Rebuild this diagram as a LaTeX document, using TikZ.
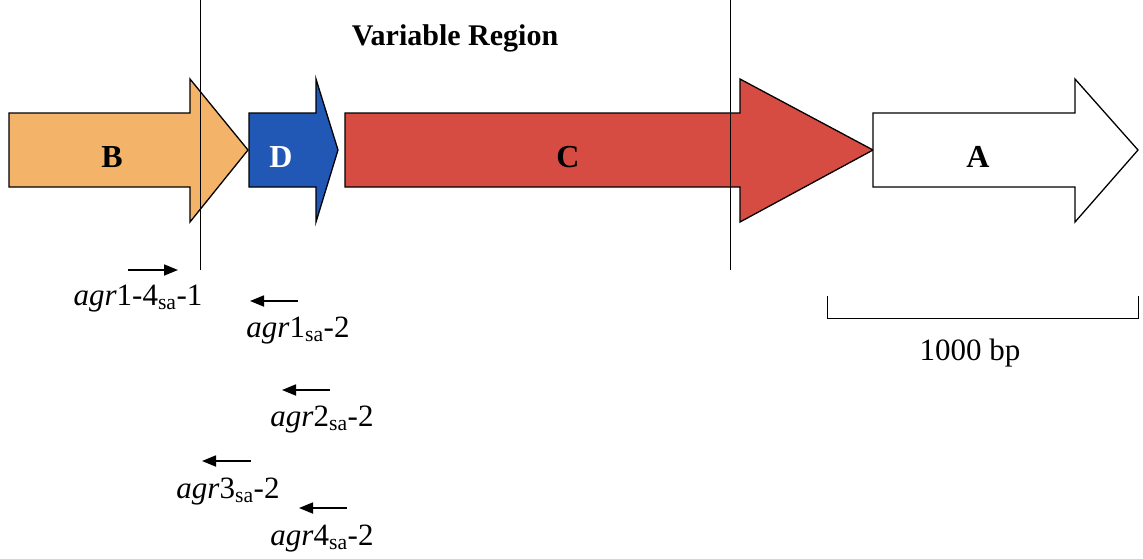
\documentclass[tikz,border=0pt]{standalone}
\usepackage{fontspec}
\setmainfont{Liberation Serif}
\usetikzlibrary{arrows.meta, positioning, calc}
\definecolor{orangeB}{HTML}{F3B469}
\definecolor{blueD}{HTML}{2158B6}
\definecolor{redC}{HTML}{D64C42}
% gene arrow: body start, head base, tip, fill
\newcommand{\genearrow}[4]{%
  \draw[gene, fill=#4] (#1,113) -- (#2,113) -- (#2,79) -- (#3,150) -- (#2,222) -- (#2,187) -- (#1,187) -- cycle;}

\begin{document}
\begin{tikzpicture}[x=1pt, y=-1pt,
    gene/.style={draw=black, line width=1.3pt, line join=miter},
    genelabel/.style={font=\fontsize{32}{36}\selectfont\bfseries},
    primer/.style={-{Triangle[length=14pt,width=11pt]}, line width=1.8pt},
    primerlabel/.style={font=\fontsize{31}{36}\selectfont}]
    \useasboundingbox (0,0) rectangle (1143,558);
    % Genes
    \genearrow{9}{190}{248}{orangeB}
    \genearrow{249}{316}{338}{blueD}
    \genearrow{345}{740}{873}{redC}
    \genearrow{873}{1075}{1138}{white}
    \node[genelabel] (labB) at (112,157) {B};
    \node[genelabel, white] (labD) at (281,157) {D};
    \node[genelabel] (labC) at (568,157) {C};
    \node[genelabel] (labA) at (978,157) {A};
    % Variable region bounds
    \draw[line width=1pt] (200,0) -- (200,270);
    \draw[line width=1pt] (730,0) -- (730,270);
    \node[font=\fontsize{30}{34}\selectfont\bfseries] (varreg) at (455,38) {Variable Region};
    % Primers
    \coordinate (f1s) at (128,270); \coordinate (f1e) at (178,270);
    \draw[primer] (f1s) -- (f1e);
    \node[primerlabel] (f1) at (138,299) {\textit{agr}1-4\textsubscript{sa}-1};
    \coordinate (r1s) at (298,301); \coordinate (r1e) at (250,301);
    \draw[primer] (r1s) -- (r1e);
    \node[primerlabel] (r1) at (298,331) {\textit{agr}1\textsubscript{sa}-2};
    \coordinate (r2s) at (330,390); \coordinate (r2e) at (282,390);
    \draw[primer] (r2s) -- (r2e);
    \node[primerlabel] (r2) at (322,420) {\textit{agr}2\textsubscript{sa}-2};
    \coordinate (r3s) at (251,461); \coordinate (r3e) at (202,461);
    \draw[primer] (r3s) -- (r3e);
    \node[primerlabel] (r3) at (228,492) {\textit{agr}3\textsubscript{sa}-2};
    \coordinate (r4s) at (347,508); \coordinate (r4e) at (299,508);
    \draw[primer] (r4s) -- (r4e);
    \node[primerlabel] (r4) at (322,539) {\textit{agr}4\textsubscript{sa}-2};
    % Scale bar
    \coordinate (sbl) at (827,318); \coordinate (sbr) at (1138,318);
    \draw[line width=1pt] ($(sbl)+(0,-22)$) -- (sbl) -- (sbr) -- ($(sbr)+(0,-22)$);
    \node[primerlabel] (sblab) at (970,353) {1000 bp};
\end{tikzpicture}
\end{document}
